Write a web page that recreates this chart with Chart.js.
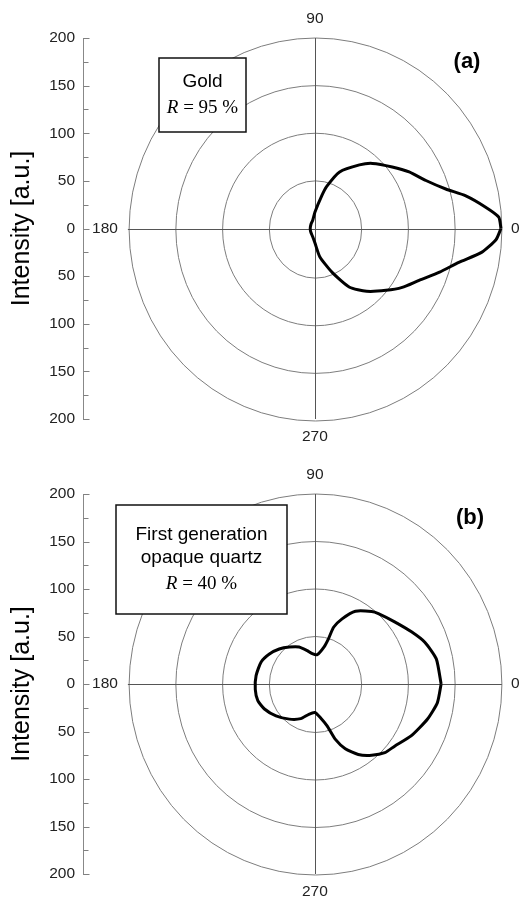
<!DOCTYPE html>
<html>
<head>
<meta charset="utf-8">
<script src="https://cdn.jsdelivr.net/npm/chart.js@4.4.1/dist/chart.umd.min.js"></script>
<style>
  body { margin: 0; background: #fff; }
  .panel { position: absolute; left: 0; width: 520px; }
</style>
</head>
<body>
<div class="panel" style="top:0;height:450px"><canvas id="chart-a" width="520" height="450"></canvas></div>
<div class="panel" style="top:450px;height:451px"><canvas id="chart-b" width="520" height="451"></canvas></div>
<script>
// (a) Gold, R = 95 %  -- angle in degrees, intensity in a.u.
const goldAngle = [0, 3.5, 7, 12, 16.5, 23, 30.5, 38, 48, 54.5, 66, 74, 78, 90, 105, 135, 180,
  225, 255, 270, 280, 292, 301, 310, 319.5, 326.5, 334, 341, 347, 352, 356.5];
const goldIntensity = [199, 197, 184, 165, 146, 129, 117, 105, 92, 82, 65, 46, 35, 17, 9, 6, 5,
  6, 9, 15, 30, 50, 72, 86, 100, 112, 124, 141, 158, 180, 194];

// (b) First generation opaque quartz, R = 40 %
const quartzAngle = [0, 11.5, 20.5, 28, 37.5, 47.5, 51.5, 60.5, 67, 71.5, 73, 76, 85.5, 95, 103,
  113.5, 125, 136, 147, 158, 172, 185, 196, 206, 219, 233.5, 247.5, 258.5, 270, 279.5, 286.5,
  290.5, 295.5, 302, 309, 316, 322.5, 332, 343, 351.5];
const quartzIntensity = [135, 132.5, 125.5, 117, 107.5, 100.5, 97.5, 88, 74.5, 63, 50, 40, 31, 32, 36,
  42.5, 47.5, 53, 58, 62, 63.5, 64, 63.5, 60, 53.5, 46, 39.5, 32.5, 30, 36, 46,
  62, 75.5, 87.5, 96.5, 104, 107.5, 116.5, 126, 132.5];

const intensityTicks = [-200, -150, -100, -50, 0, 50, 100, 150, 200];
const gridRadii = [50, 100, 150, 200];
const angleLabels = ["0", "90", "180", "270"];

const SANS = "'Liberation Sans', Arial, sans-serif";
const SERIF = "'Liberation Serif', 'Times New Roman', serif";

function toXY(angles, radii) {
  const pts = angles.map((a, i) => {
    const t = a * Math.PI / 180;
    return { x: radii[i] * Math.cos(t), y: radii[i] * Math.sin(t) };
  });
  pts.push(pts[0]); // close the loop
  return pts;
}

const polarFrame = {
  id: 'polarFrame',
  beforeDatasetsDraw(chart) {
    const { ctx } = chart;
    const xs = chart.scales.x, ys = chart.scales.y;
    const cx = Math.round(xs.getPixelForValue(0)) + 0.5;
    const cy = Math.round(ys.getPixelForValue(0)) + 0.5;
    ctx.save();
    ctx.strokeStyle = '#7d7d7d';
    ctx.lineWidth = 1;
    gridRadii.forEach(r => {
      ctx.beginPath();
      ctx.ellipse(cx, cy, xs.getPixelForValue(r) - cx, cy - ys.getPixelForValue(r), 0, 0, Math.PI * 2);
      ctx.stroke();
    });
    const rMax = gridRadii[gridRadii.length - 1];
    ctx.strokeStyle = '#555';
    ctx.beginPath();
    ctx.moveTo(xs.getPixelForValue(-rMax), cy);
    ctx.lineTo(xs.getPixelForValue(rMax), cy);
    ctx.moveTo(cx, ys.getPixelForValue(rMax));
    ctx.lineTo(cx, ys.getPixelForValue(-rMax));
    ctx.stroke();
    ctx.restore();
  },
  afterDraw(chart, args, opts) {
    const { ctx } = chart;
    const xs = chart.scales.x, ys = chart.scales.y;
    const cx = xs.getPixelForValue(0), cy = ys.getPixelForValue(0);
    const rMax = gridRadii[gridRadii.length - 1];
    ctx.save();

    // inward ticks on the intensity axis
    ctx.strokeStyle = '#808080';
    ctx.lineWidth = 1;
    const ax = Math.round(ys.right) + 0.5;
    for (let i = 0; i < intensityTicks.length; i++) {
      const v = intensityTicks[i];
      const py = Math.round(ys.getPixelForValue(v)) + 0.5;
      ctx.beginPath(); ctx.moveTo(ax, py); ctx.lineTo(ax + 6, py); ctx.stroke();
      if (i < intensityTicks.length - 1) {
        const pm = Math.round(ys.getPixelForValue((v + intensityTicks[i + 1]) / 2)) + 0.5;
        ctx.beginPath(); ctx.moveTo(ax, pm); ctx.lineTo(ax + 5, pm); ctx.stroke();
      }
    }

    // angle labels
    ctx.fillStyle = '#222';
    ctx.font = '15.5px ' + SANS;
    ctx.textBaseline = 'middle';
    ctx.textAlign = 'left';
    ctx.fillText(angleLabels[0], xs.getPixelForValue(rMax) + 9, cy);
    ctx.textAlign = 'right';
    ctx.fillText(angleLabels[2], xs.getPixelForValue(-rMax) - 10, cy);
    ctx.textAlign = 'center';
    ctx.textBaseline = 'alphabetic';
    ctx.fillText(angleLabels[1], cx, ys.getPixelForValue(rMax) - 15.5);
    ctx.fillText(angleLabels[3], cx, ys.getPixelForValue(-rMax) + 22);

    // panel letter
    ctx.fillStyle = '#000';
    ctx.font = 'bold 22px ' + SANS;
    ctx.textBaseline = 'middle';
    ctx.fillText(opts.letter, opts.letterX, opts.letterY);

    // annotation box
    const b = opts.box;
    ctx.fillStyle = '#fff';
    ctx.fillRect(b.x, b.y, b.w, b.h);
    ctx.strokeStyle = '#111';
    ctx.lineWidth = 1.5;
    ctx.strokeRect(b.x, b.y, b.w, b.h);
    const mid = b.x + b.w / 2;
    ctx.fillStyle = '#000';
    ctx.textAlign = 'center';
    opts.lines.forEach((txt, i) => {
      ctx.font = '19px ' + SANS;
      ctx.fillText(txt, mid, opts.lineY[i]);
    });
    // "R = xx %" line, R in italics
    const rest = ' = ' + opts.reflect + ' %';
    ctx.font = 'italic 19px ' + SERIF;
    const wR = ctx.measureText('R').width;
    ctx.font = '19px ' + SERIF;
    const wRest = ctx.measureText(rest).width;
    const start = mid - (wR + wRest) / 2;
    ctx.textAlign = 'left';
    ctx.font = 'italic 19px ' + SERIF;
    ctx.fillText('R', start, opts.rY);
    ctx.font = '19px ' + SERIF;
    ctx.fillText(rest, start + wR, opts.rY);
    ctx.restore();
  }
};

function makePolar(canvasId, angles, radii, pad, frame) {
  const ctx = document.getElementById(canvasId).getContext('2d');
  return new Chart(ctx, {
    type: 'scatter',
    data: {
      datasets: [{
        data: toXY(angles, radii),
        showLine: true,
        borderColor: '#000',
        borderWidth: 3,
        pointRadius: 0,
        tension: 0.2,
        clip: false
      }]
    },
    options: {
      responsive: false,
      animation: false,
      layout: { padding: pad },
      scales: {
        x: { type: 'linear', min: -248, max: 203, display: false },
        y: {
          type: 'linear',
          position: 'left',
          min: -200,
          max: 200,
          afterBuildTicks: s => { s.ticks = intensityTicks.map(v => ({ value: v })); },
          afterFit: s => { s.width = 83; },
          grid: { drawOnChartArea: false, drawTicks: false },
          border: { display: true, color: '#888', width: 1 },
          ticks: {
            padding: 8,
            color: '#222',
            font: { family: SANS, size: 15.5 },
            callback: v => Math.abs(v)
          },
          title: {
            display: true,
            text: 'Intensity [a.u.]',
            color: '#000',
            font: { family: SANS, size: 25 },
            padding: { top: 7, bottom: 0 }
          }
        }
      },
      plugins: {
        legend: { display: false },
        tooltip: { enabled: false },
        polarFrame: frame
      }
    },
    plugins: [polarFrame]
  });
}

makePolar('chart-a', goldAngle, goldIntensity,
  { left: 0, right: 15.3, top: 38, bottom: 31 },
  {
    letter: '(a)', letterX: 467, letterY: 62,
    box: { x: 159, y: 58, w: 87, h: 74 },
    lines: ['Gold'], lineY: [82],
    reflect: 95, rY: 108
  });

makePolar('chart-b', quartzAngle, quartzIntensity,
  { left: 0, right: 15.3, top: 44, bottom: 27 },
  {
    letter: '(b)', letterX: 470, letterY: 68,
    box: { x: 116, y: 55, w: 171, h: 109 },
    lines: ['First generation', 'opaque quartz'], lineY: [85, 108],
    reflect: 40, rY: 134
  });
</script>
</body>
</html>
